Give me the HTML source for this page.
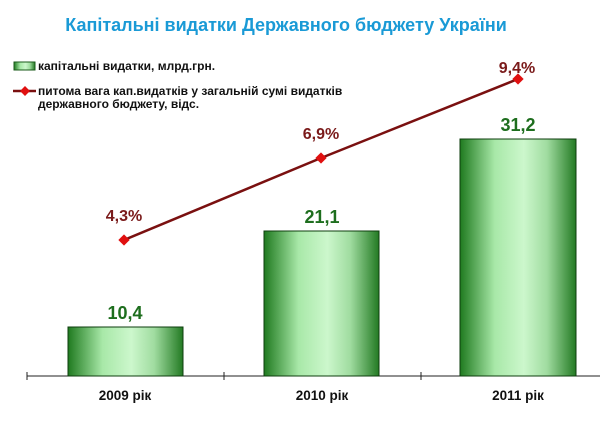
<!DOCTYPE html>
<html><head><meta charset="utf-8"><style>
body{margin:0;background:#fff;}
svg{display:block;font-family:"Liberation Sans",sans-serif;}
</style></head><body>
<svg width="600" height="437" viewBox="0 0 600 437">
<defs>
<linearGradient id="g" x1="0" x2="1" y1="0" y2="0">
<stop offset="0" stop-color="#1f7a1f"/>
<stop offset="0.3" stop-color="#a8e8a8"/>
<stop offset="0.55" stop-color="#ccf7cc"/>
<stop offset="0.75" stop-color="#a0dca0"/>
<stop offset="1" stop-color="#237a23"/>
</linearGradient>
</defs>
<text x="286" y="31" text-anchor="middle" font-size="18" font-weight="bold" fill="#1a9ad6">Капітальні видатки Державного бюджету України</text>
<rect x="14" y="62" width="21" height="8" fill="url(#g)" stroke="#1a5a1a" stroke-width="1"/>
<text x="38" y="70" font-size="12" font-weight="bold" fill="#111">капітальні видатки, млрд.грн.</text>
<line x1="13" y1="91" x2="36" y2="91" stroke="#7a1010" stroke-width="2.5"/>
<rect x="21.5" y="87.5" width="7" height="7" fill="#e01010" transform="rotate(45 25 91)"/>
<text x="38" y="95" font-size="12" font-weight="bold" fill="#111">питома вага кап.видатків у загальній сумі видатків</text>
<text x="38" y="108" font-size="12" font-weight="bold" fill="#111">державного бюджету, відс.</text>
<line x1="27" y1="376" x2="600" y2="376" stroke="#222" stroke-width="1"/>
<line x1="27" y1="372" x2="27" y2="380" stroke="#222"/>
<line x1="224" y1="372" x2="224" y2="380" stroke="#222"/>
<line x1="421" y1="372" x2="421" y2="380" stroke="#222"/>
<rect x="68" y="327" width="115" height="49" fill="url(#g)" stroke="#0d3d0d" stroke-width="1"/>
<rect x="264" y="231" width="115" height="145" fill="url(#g)" stroke="#0d3d0d" stroke-width="1"/>
<rect x="460" y="139" width="116" height="237" fill="url(#g)" stroke="#0d3d0d" stroke-width="1"/>
<g font-size="18" font-weight="bold" fill="#1e6e1e" text-anchor="middle">
<text x="125" y="319">10,4</text>
<text x="322" y="223">21,1</text>
<text x="518" y="131">31,2</text>
</g>
<polyline points="124,240 321,158 518,79" fill="none" stroke="#7a1010" stroke-width="2.5"/>
<g fill="#e01010">
<rect x="120" y="236" width="8" height="8" transform="rotate(45 124 240)"/>
<rect x="317" y="154" width="8" height="8" transform="rotate(45 321 158)"/>
<rect x="514" y="75" width="8" height="8" transform="rotate(45 518 79)"/>
</g>
<g font-size="16" font-weight="bold" fill="#7a1a1a" text-anchor="middle">
<text x="124" y="221">4,3%</text>
<text x="321" y="139">6,9%</text>
<text x="517" y="73">9,4%</text>
</g>
<g font-size="13.5" font-weight="bold" fill="#111" text-anchor="middle">
<text x="125" y="400">2009 рік</text>
<text x="322" y="400">2010 рік</text>
<text x="518" y="400">2011 рік</text>
</g>
</svg>
</body></html>
